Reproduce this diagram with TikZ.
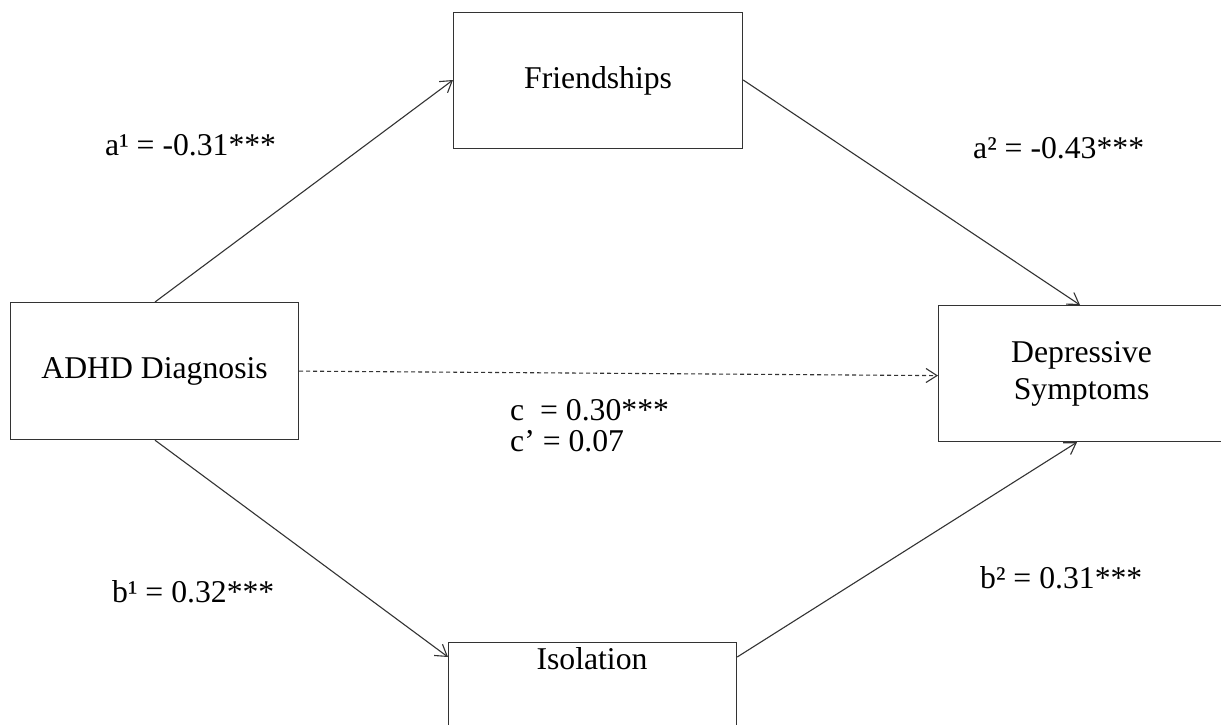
\documentclass[tikz,border=0pt]{standalone}
\usepackage{fontspec}
\setmainfont{Liberation Serif}
\usetikzlibrary{arrows.meta,calc}
\begin{document}
\begin{tikzpicture}[x=1pt,y=-1pt,
  txt/.style={font=\fontsize{31.7pt}{37pt}\selectfont, inner sep=0pt},
  box/.style={draw=black!80, line width=1.2pt, rectangle, inner sep=0pt, anchor=north west, align=center, font=\fontsize{31.7pt}{37pt}\selectfont},
  conn/.style={draw=black!80, line width=1.1pt, -{Straight Barb[length=11pt,width=14pt,line width=1.1pt]}},
  lab/.style={txt, anchor=base west}]
\useasboundingbox (0,0) rectangle (1221,724);
\clip (0,0) rectangle (1221,724);
\fill[white] (0,0) rectangle (1221,724);
\node[box, minimum width=289pt, minimum height=136pt] (friend) at (453,12) {Friendships};
\node[box, minimum width=288pt, minimum height=137pt] (adhd) at (10,302) {ADHD Diagnosis};
\node[box, minimum width=286pt, minimum height=136pt] (dep) at (938,305) {Depressive\\Symptoms};
\node[box, minimum width=288pt, minimum height=137pt] (iso) at (448,642) {};
\node[lab, anchor=base] (isotxt) at (592,669) {Isolation};
\draw[conn] ([xshift=145pt]adhd.north west) -- ([yshift=-68pt]friend.north west);
\draw[conn] ([yshift=-68pt]friend.north east) -- ([xshift=142pt]dep.north west);
\draw[conn] ([xshift=145pt]adhd.south west) -- ([yshift=-15pt]iso.north west);
\draw[conn] ([yshift=-15pt]iso.north east) -- ([xshift=139pt]dep.south west);
\draw[conn, dash pattern=on 4pt off 3pt] (adhd.east) -- ([yshift=-2pt]dep.west);
\node[lab] (la1) at (105,155) {a¹ = -0.31***};
\node[lab] (la2) at (973,158) {a² = -0.43***};
\node[lab] (lc) at (510,420) {c\ \ = 0.30***};
\node[lab] (lcp) at (510,451) {c’ = 0.07};
\node[lab] (lb1) at (112,602) {b¹ = 0.32***};
\node[lab] (lb2) at (980,588) {b² = 0.31***};
\end{tikzpicture}
\end{document}
